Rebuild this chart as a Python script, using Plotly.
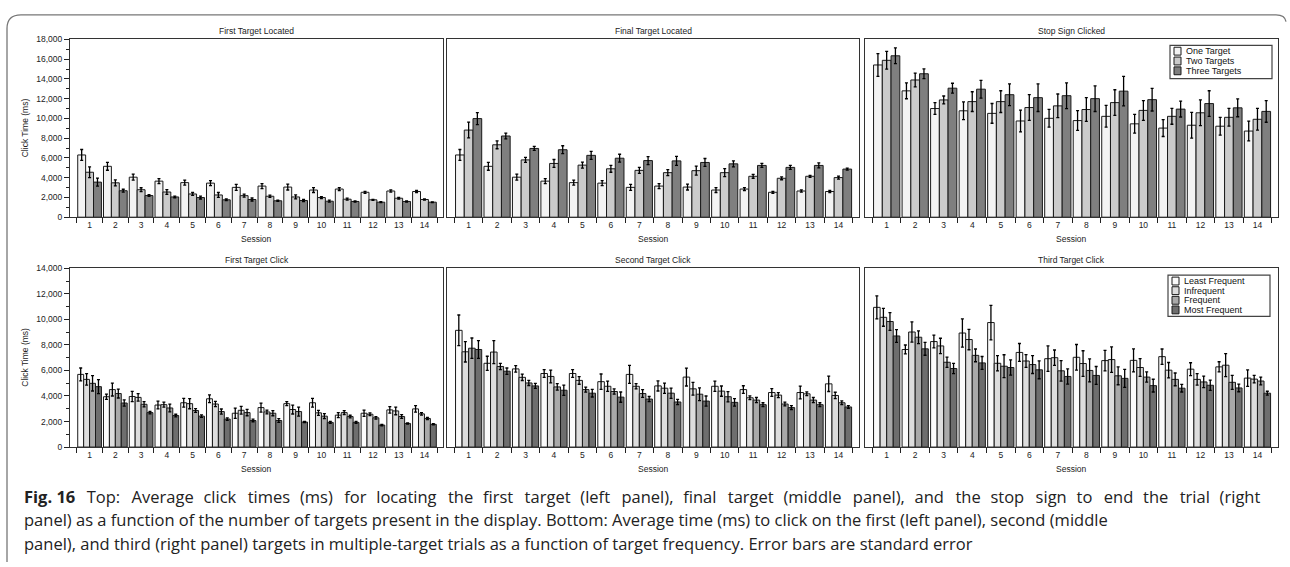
import plotly.graph_objects as go

W, H = 1290, 567

sessions = [str(i) for i in range(1, 15)]

# ---- top row: number of targets in the display ----
target_names = ["One Target", "Two Targets", "Three Targets"]
target_colors = ["#f3f3f3", "#cbcbcb", "#7f7f7f"]

first_loc_means = [
    [6300, 5150, 4050, 3650, 3500, 3450, 3020, 3150, 3050, 2750, 2850, 2520, 2650, 2600],
    [4550, 3480, 2780, 2550, 2350, 2250, 2180, 2120, 2050, 1990, 1820, 1760, 1920, 1790],
    [3550, 2680, 2190, 2050, 1990, 1760, 1790, 1660, 1690, 1620, 1590, 1520, 1590, 1520],
]
first_loc_se = [
    [550, 400, 300, 250, 250, 250, 300, 250, 300, 250, 150, 100, 120, 100],
    [550, 300, 200, 250, 150, 250, 150, 120, 200, 100, 100, 50, 80, 50],
    [400, 150, 80, 80, 150, 80, 150, 60, 100, 100, 50, 50, 60, 40],
]

final_loc_means = [
    [6300, 5150, 4050, 3650, 3500, 3450, 3020, 3150, 3050, 2750, 2850, 2520, 2650, 2600],
    [8820, 7330, 5800, 5440, 5270, 4900, 4740, 4510, 4710, 4510, 4140, 3940, 4140, 4010],
    [9980, 8220, 6960, 6830, 6260, 5970, 5730, 5700, 5540, 5400, 5240, 5040, 5240, 4870],
]
final_loc_se = [
    [550, 400, 300, 250, 250, 250, 300, 250, 300, 250, 150, 100, 120, 100],
    [800, 400, 250, 400, 300, 350, 300, 300, 450, 400, 200, 150, 100, 150],
    [600, 300, 200, 400, 400, 400, 400, 450, 400, 300, 200, 200, 250, 100],
]

stop_means = [
    [15410, 12790, 11000, 10770, 10510, 9740, 10010, 9780, 10210, 9450, 9020, 9310, 9210, 8720],
    [15880, 13890, 11870, 11700, 11700, 11100, 11270, 10900, 11600, 10810, 10210, 10570, 10110, 9910],
    [16340, 14520, 13060, 12960, 12400, 12100, 12300, 12000, 12760, 11900, 10940, 11500, 11070, 10710],
]
stop_se = [
    [1150, 800, 600, 900, 1000, 1100, 900, 1000, 1100, 950, 850, 1300, 900, 1000],
    [900, 700, 400, 1000, 1100, 1300, 1200, 1200, 1300, 1000, 800, 1300, 900, 1100],
    [800, 500, 500, 900, 1100, 1400, 1300, 1300, 1500, 1150, 800, 1300, 900, 1100],
]

# ---- bottom row: target frequency ----
freq_names = ["Least Frequent", "Infrequent", "Frequent", "Most Frequent"]
freq_colors = ["#fbfbfb", "#dddddd", "#a9a9a9", "#6e6e6e"]

first_click_means = [
    [5690, 3940, 3960, 3290, 3470, 3780, 2650, 3090, 3400, 3470, 2500, 2650, 2910, 2990],
    [5300, 4500, 3890, 3320, 3400, 3370, 2880, 2750, 2940, 2680, 2700, 2570, 2830, 2600],
    [4990, 4190, 3350, 3060, 2860, 2780, 2700, 2650, 2780, 2420, 2390, 2290, 2390, 2240],
    [4730, 3450, 2700, 2470, 2420, 2190, 2080, 2080, 1960, 1930, 1930, 1720, 1850, 1780],
]
first_click_se = [
    [500, 200, 400, 300, 350, 300, 400, 350, 150, 350, 200, 250, 250, 250],
    [450, 500, 300, 200, 400, 200, 300, 150, 350, 200, 150, 100, 300, 100],
    [600, 350, 200, 300, 150, 200, 250, 200, 350, 200, 100, 100, 150, 80],
    [550, 250, 100, 100, 100, 100, 100, 150, 50, 80, 80, 50, 50, 50],
]

second_click_means = [
    [9140, 6560, 6120, 5760, 5760, 5120, 5690, 4790, 5480, 4760, 4500, 4270, 4270, 4950],
    [7460, 7440, 5460, 5530, 5220, 4760, 4760, 4610, 4560, 4380, 3860, 4070, 4170, 4040],
    [7740, 6310, 5020, 4710, 4500, 4350, 4190, 4220, 4140, 3940, 3680, 3370, 3680, 3470],
    [7640, 5940, 4790, 4450, 4220, 3910, 3760, 3530, 3600, 3500, 3320, 3090, 3320, 3140],
]
second_click_se = [
    [1200, 550, 250, 300, 300, 600, 700, 400, 700, 400, 300, 300, 500, 600],
    [800, 900, 250, 500, 300, 400, 200, 400, 500, 400, 150, 200, 150, 250],
    [800, 250, 200, 250, 200, 200, 300, 400, 500, 400, 200, 150, 200, 150],
    [700, 250, 200, 400, 300, 400, 200, 200, 400, 300, 150, 150, 150, 100],
]

third_click_means = [
    [10940, 7640, 8260, 8930, 9750, 7410, 6920, 7030, 6770, 6790, 7080, 6100, 6280, 5400],
    [10160, 9010, 7920, 8420, 6560, 6740, 7000, 6540, 6850, 6230, 6020, 5300, 6410, 5320],
    [9830, 8600, 6640, 7180, 6330, 6460, 5970, 6000, 5580, 5480, 5300, 5100, 5070, 5170],
    [8700, 7690, 6150, 6590, 6230, 6050, 5530, 5610, 5380, 4810, 4610, 4840, 4630, 4220],
]
third_click_se = [
    [900, 350, 500, 1100, 1350, 700, 1000, 1000, 800, 900, 600, 500, 400, 650],
    [700, 800, 600, 800, 600, 500, 600, 1000, 1000, 700, 600, 450, 900, 300],
    [700, 500, 400, 500, 900, 700, 800, 900, 700, 400, 500, 450, 550, 300],
    [500, 500, 400, 500, 600, 700, 600, 700, 700, 500, 300, 400, 300, 150],
]

panels = [
    ("First Target Located", first_loc_means, first_loc_se, target_names, target_colors),
    ("Final Target Located", final_loc_means, final_loc_se, target_names, target_colors),
    ("Stop Sign Clicked", stop_means, stop_se, target_names, target_colors),
    ("First Target Click", first_click_means, first_click_se, freq_names, freq_colors),
    ("Second Target Click", second_click_means, second_click_se, freq_names, freq_colors),
    ("Third Target Click", third_click_means, third_click_se, freq_names, freq_colors),
]

# pixel boxes of the plot areas (x0, x1) and (ytop, ybottom)
col_px = [(70, 443), (447, 859), (865, 1278)]
row_px = [(35, 216), (268, 450)]
y_max = [18000, 14000]

FONT = "Liberation Sans, Arial, sans-serif"


def px_x(x):
    return x / W


def px_y(y):
    return 1 - y / H


fig = go.Figure()
layout = {}
annotations = []
shapes = []

for i, (title, means, ses, names, colors) in enumerate(panels):
    r, c = divmod(i, 3)
    ax = "" if i == 0 else str(i + 1)
    for k in range(len(names)):
        fig.add_trace(go.Bar(
            x=sessions, y=means[k], name=names[k],
            xaxis="x" + ax, yaxis="y" + ax,
            marker=dict(color=colors[k], line=dict(color="#1a1a1a", width=1)),
            error_y=dict(type="data", array=ses[k], color="#000000",
                         thickness=1.3, width=1.5),
            showlegend=False,
        ))

    x0, x1 = col_px[c]
    yt, yb = row_px[r]
    layout["xaxis" + ax] = dict(
        domain=[px_x(x0), px_x(x1)], anchor="y" + ax, type="category",
        range=[-0.76, 13.72], tickson="boundaries", ticks="outside",
        ticklen=5, tickwidth=1, tickcolor="#222",
        showline=True, linecolor="#333", linewidth=1.2, mirror=True,
        showgrid=False, zeroline=False,
        tickfont=dict(size=8.5, color="#222", family=FONT),
    )
    yax = dict(
        domain=[px_y(yb), px_y(yt)], anchor="x" + ax,
        range=[0, y_max[r]], showgrid=False, zeroline=False,
        showline=True, linecolor="#333", linewidth=1.2, mirror=True,
    )
    if c == 0:
        yax.update(
            ticks="outside", ticklen=5, tickwidth=1, tickcolor="#222",
            dtick=2000, tickformat=",d",
            tickfont=dict(size=8.5, color="#222", family=FONT),
            minor=dict(ticks="outside", ticklen=3, dtick=1000, tickcolor="#222"),
        )
    else:
        yax.update(showticklabels=False, ticks="")
    layout["yaxis" + ax] = yax

    # panel title and Session label
    annotations.append(dict(
        text=title, xref="paper", yref="paper",
        x=px_x((x0 + x1) / 2), y=px_y(yt - 1), xanchor="center", yanchor="bottom",
        showarrow=False, font=dict(size=8.5, color="#222", family=FONT),
    ))
    annotations.append(dict(
        text="Session", xref="paper", yref="paper",
        x=px_x((x0 + x1) / 2), y=px_y(yb + 22), xanchor="center", yanchor="middle",
        showarrow=False, font=dict(size=8.5, color="#222", family=FONT),
    ))

# y axis titles
for r in range(2):
    yt, yb = row_px[r]
    annotations.append(dict(
        text="Click Time (ms)", xref="paper", yref="paper",
        x=px_x(25), y=px_y((yt + yb) / 2), xanchor="center", yanchor="middle",
        textangle=-90, showarrow=False, font=dict(size=8.5, color="#222", family=FONT),
    ))


# hand-made legends (compact like the original)
def add_legend(names, colors, bx0, by0, bx1, by1, row_h):
    shapes.append(dict(type="rect", xref="paper", yref="paper",
                       x0=px_x(bx0), x1=px_x(bx1), y0=px_y(by1), y1=px_y(by0),
                       line=dict(color="#444", width=1.2), fillcolor="white"))
    for k, (n, col) in enumerate(zip(names, colors)):
        cy = by0 + 6 + k * row_h
        shapes.append(dict(type="rect", xref="paper", yref="paper",
                           x0=px_x(bx0 + 4), x1=px_x(bx0 + 11),
                           y0=px_y(cy + 4), y1=px_y(cy - 4),
                           line=dict(color="#1a1a1a", width=1), fillcolor=col))
        annotations.append(dict(
            text=n, xref="paper", yref="paper", x=px_x(bx0 + 14), y=px_y(cy),
            xanchor="left", yanchor="middle", showarrow=False,
            font=dict(size=9, color="#111", family=FONT)))


add_legend(target_names, target_colors, 1170, 41, 1272, 75, 10)
add_legend(freq_names, freq_colors, 1168, 275, 1270, 317, 9.8)

# rounded frame around the figure
shapes.append(dict(
    type="path", xref="paper", yref="paper",
    path=(f"M {px_x(7)},{px_y(567)} L {px_x(7)},{px_y(24)} "
          f"Q {px_x(7)},{px_y(10)} {px_x(21)},{px_y(10)} "
          f"L {px_x(1276)},{px_y(10)} Q {px_x(1285)},{px_y(10)} {px_x(1286)},{px_y(17)}"),
    line=dict(color="#777", width=1.3),
))

# caption (first line is set looser, as in the justified original)
CAP_FONT = "Open Sans, Noto Sans, sans-serif"
gaps = [" \u2009\u2006\u200a", " \u2009\u2006"]
words = ("Top: Average click times (ms) for locating the first target (left panel), "
         "final target (middle panel), and the stop sign to end the trial (right").split(" ")
line1 = "<b>Fig.\u00a016</b>" + gaps[0] + words[0]
for n, w in enumerate(words[1:]):
    line1 += gaps[n % 2] + w
caption_lines = [
    line1,
    "panel) as a function of the number of targets present in the display. Bottom: Average time (ms) to click on the first (left panel), second (middle",
    "panel), and third (right panel) targets in multiple-target trials as a function of target frequency. Error bars are standard error",
]
for j, line in enumerate(caption_lines):
    annotations.append(dict(
        text=line, xref="paper", yref="paper", x=px_x(22), y=px_y(500 + 24 * j),
        xanchor="left", yanchor="middle", showarrow=False,
        font=dict(size=16.5, color="#222", family=CAP_FONT),
    ))

fig.update_layout(
    **layout,
    width=W, height=H,
    margin=dict(l=0, r=0, t=0, b=0),
    paper_bgcolor="white", plot_bgcolor="white",
    barmode="group", bargap=0.08, bargroupgap=0,
    showlegend=False,
    annotations=annotations, shapes=shapes,
    font=dict(family=FONT, color="#222"),
)

# drop the default page margin so the figure sits at the window origin
fig.write_html("out.html", config={"displayModeBar": False},
               post_script="document.body.style.margin = '0';")
